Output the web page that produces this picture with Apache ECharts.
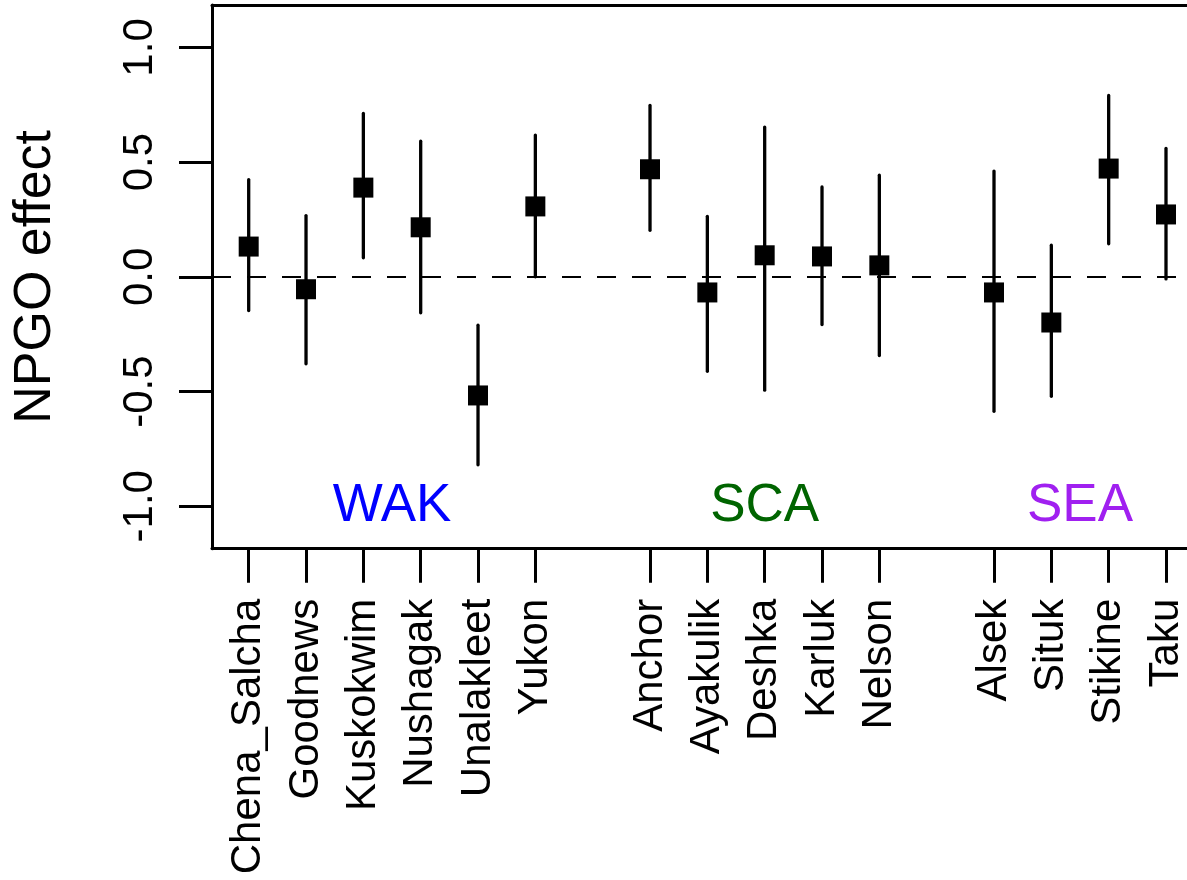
<!DOCTYPE html>
<html>
<head>
<meta charset="utf-8">
<script src="https://cdn.jsdelivr.net/npm/echarts@6/dist/echarts.min.js"></script>
<style>
  html, body { margin: 0; padding: 0; background: #fff; }
  #chart { width: 1187px; height: 880px; }
</style>
</head>
<body>
<div id="chart"></div>
<script>
// River stocks, grouped by region, with gaps between the regions
const rivers = ['Chena_Salcha', 'Goodnews', 'Kuskokwim', 'Nushagak', 'Unalakleet', 'Yukon',
                'Anchor', 'Ayakulik', 'Deshka', 'Karluk', 'Nelson',
                'Alsek', 'Situk', 'Stikine', 'Taku'];
const xPos = [1, 2, 3, 4, 5, 6, 8, 9, 10, 11, 12, 14, 15, 16, 17];

// Estimated NPGO effect and interval bounds per river
const estimate = [0.132, -0.054, 0.389, 0.216, -0.517, 0.307,
                  0.469, -0.068, 0.094, 0.089, 0.050,
                  -0.068, -0.199, 0.472, 0.272];
const lowerCI = [-0.147, -0.379, 0.083, -0.157, -0.819, 0.000,
                 0.203, -0.412, -0.494, -0.208, -0.343,
                 -0.586, -0.521, 0.144, -0.009];
const upperCI = [0.424, 0.267, 0.712, 0.591, -0.211, 0.618,
                 0.747, 0.264, 0.653, 0.392, 0.443,
                 0.461, 0.138, 0.791, 0.560];

// Region labels
const regions = ['WAK', 'SCA', 'SEA'];
const regionX = [3.5, 10, 15.5];
const regionY = [-1, -1, -1];
const regionColors = ['#0000FF', '#006400', '#A020F0'];

const yTicks = [-1, -0.5, 0, 0.5, 1];

const FONT = '"Liberation Sans", Arial, Helvetica, sans-serif';
const labelByPos = {};
xPos.forEach((p, i) => { labelByPos[p] = rivers[i]; });

const X_MIN = 0.36, X_MAX = 17.36;   // plot runs on past the right edge of the page

const chart = echarts.init(document.getElementById('chart'), null, { renderer: 'canvas' });

const axisLineStyle = { color: '#000', width: 3 };

const option = {
  animation: false,
  backgroundColor: '#fff',
  grid: { left: 212, top: 5, right: 0, bottom: 331.3, show: false },
  xAxis: [
    {
      type: 'value', min: X_MIN, max: X_MAX, position: 'bottom',
      axisLine: { show: true, onZero: false, lineStyle: axisLineStyle },
      axisTick: { show: true, customValues: xPos, length: 34, lineStyle: axisLineStyle },
      axisLabel: {
        show: true, customValues: xPos, rotate: 90, margin: 50,
        fontSize: 42, fontFamily: FONT, color: '#000',
        formatter: v => labelByPos[v] || ''
      },
      splitLine: { show: false }
    },
    {
      // top edge of the frame
      type: 'value', min: X_MIN, max: X_MAX, position: 'top',
      axisLine: { show: true, onZero: false, lineStyle: axisLineStyle },
      axisTick: { show: false },
      axisLabel: { show: false },
      splitLine: { show: false }
    }
  ],
  yAxis: {
    type: 'value', min: -1.185, max: 1.185,
    name: 'NPGO effect', nameLocation: 'middle', nameRotate: 90, nameGap: 150,
    nameTextStyle: { fontSize: 52, fontFamily: FONT, color: '#000' },
    axisLine: { show: true, onZero: false, lineStyle: axisLineStyle },
    axisTick: { show: true, customValues: yTicks, length: 33, lineStyle: axisLineStyle },
    axisLabel: {
      show: true, customValues: yTicks, rotate: 90, margin: 51,
      fontSize: 42, fontFamily: FONT, color: '#000',
      formatter: v => v.toFixed(1)
    },
    splitLine: { show: false }
  },
  series: [
    {
      // vertical interval bars
      type: 'custom',
      z: 2,
      clip: false,
      data: xPos.map((x, i) => [x, lowerCI[i], upperCI[i]]),
      encode: { x: 0, y: [1, 2] },
      renderItem: (params, api) => {
        const x = api.value(0);
        const lo = api.coord([x, api.value(1)]);
        const hi = api.coord([x, api.value(2)]);
        return {
          type: 'line',
          shape: { x1: lo[0], y1: lo[1], x2: hi[0], y2: hi[1] },
          style: { stroke: '#000', lineWidth: 3.3, lineCap: 'round' }
        };
      }
    },
    {
      // point estimates
      type: 'scatter',
      z: 3,
      symbol: 'rect',
      symbolSize: 20,
      itemStyle: { color: '#000', opacity: 1 },
      data: xPos.map((x, i) => [x, estimate[i]]),
      markLine: {
        silent: true,
        symbol: ['none', 'none'],
        label: { show: false },
        lineStyle: { color: '#000', width: 2, type: [19, 16], opacity: 1 },
        emphasis: { disabled: true },
        data: [{ yAxis: 0 }]
      }
    },
    {
      // region names
      type: 'scatter',
      z: 4,
      symbolSize: 0,
      silent: true,
      itemStyle: { opacity: 1 },
      data: regions.map((r, i) => ({
        name: r,
        value: [regionX[i], regionY[i]],
        label: { color: regionColors[i] }
      })),
      label: {
        show: true, position: 'inside', formatter: '{b}',
        fontSize: 53, fontFamily: FONT
      }
    }
  ]
};

chart.setOption(option);
</script>
</body>
</html>
